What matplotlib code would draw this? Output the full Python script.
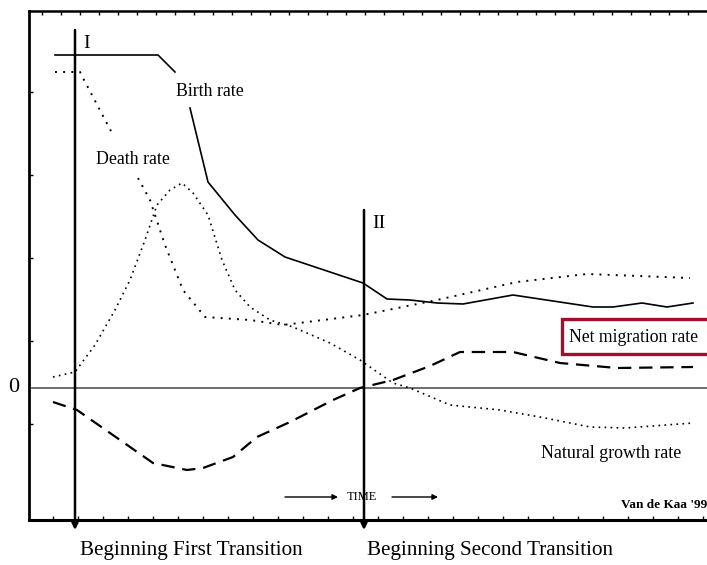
import numpy as np
import matplotlib.pyplot as plt
from matplotlib.patches import Rectangle

plt.rcParams['font.family'] = ['Liberation Serif', 'DejaVu Serif']

nan = np.nan

# time axis (arbitrary units) and rates
birth_t = [2.6, 12.9, 14.6, nan, 16.1, 17.9, 20.6, 22.9, 25.6, 33.4, 35.8, 38.1,
           40.8, 43.4, 48.4, 56.4, 58.4, 61.3, 63.8, 66.4]
birth_v = [33.3, 33.3, 31.6, nan, 28.0, 20.6, 17.3, 14.8, 13.1, 10.5, 8.9, 8.8,
           8.5, 8.4, 9.3, 8.1, 8.1, 8.5, 8.1, 8.5]

death_t = [2.6, 5.1, 5.4, 8.4, nan, 10.9, 12.1, 13.6, 15.4, 17.6, 22.1, 25.4,
           33.4, 40.8, 48.8, 55.8, 66.1]
death_v = [31.6, 31.6, 31.0, 25.3, nan, 21.0, 18.8, 14.3, 9.8, 7.1, 6.8, 6.3,
           7.3, 8.8, 10.6, 11.4, 11.0]

natural_t = [2.4, 4.6, 6.6, 8.6, 10.1, 11.6, 12.8, 14.1, 15.3, 16.4, 17.9, 19.3,
             20.6, 22.1, 24.1, 26.4, 30.1, 33.1, 36.4, 38.1, 42.1, 47.1, 51.1,
             56.1, 59.6, 66.4]
natural_v = [1.1, 1.6, 4.3, 7.8, 10.8, 14.8, 18.3, 19.8, 20.5, 19.5, 17.3, 12.8,
             9.8, 8.1, 6.8, 6.1, 4.5, 2.8, 0.5, 0.0, -1.7, -2.2, -2.9, -3.9, -4.0, -3.5]

migration_t = [2.4, 4.8, 8.1, 12.4, 15.8, 17.4, 20.4, 22.8, 26.1, 30.4, 33.1,
               36.4, 40.1, 43.1, 48.4, 53.1, 58.8, 66.4]
migration_v = [-1.4, -2.2, -4.5, -7.5, -8.2, -8.0, -6.9, -4.9, -3.4, -1.2, 0.0,
               0.8, 2.2, 3.6, 3.6, 2.5, 2.0, 2.1]

first_t = 4.6
second_t = 33.5

fig = plt.figure(figsize=(7.07, 5.65), dpi=100)
ax = fig.add_axes([29/707, 45/565, 1 - 29/707, (565-11-45)/565])
ax.set_xlim(0, 67.8)
ax.set_ylim(-13.2, 37.7)

ax.spines['right'].set_visible(False)
ax.spines['left'].set_linewidth(2.0)
ax.spines['top'].set_linewidth(1.8)
ax.spines['bottom'].set_linewidth(2.2)

ax.set_xticks(np.arange(2.4, 67.8, 2.5))
ax.set_yticks(np.arange(-3.6, 35, 8.3))
ax.tick_params(direction='in', length=3, width=1, labelbottom=False, labelleft=False)
top = ax.secondary_xaxis('top')
top.set_xticks(np.arange(1.3, 67.8, 1.9))
top.tick_params(direction='in', length=3, width=1, labeltop=False)
top.spines['top'].set_visible(False)

ax.axhline(0, color='#555555', lw=1.2, xmin=0.005)
ax.text(-1.5, 0, '0', fontsize=16, ha='center', va='center', clip_on=False)

ax.plot(birth_t, birth_v, color='black', lw=1.2)
ax.plot(death_t, death_v, color='black', lw=1.4, linestyle=(0, (1, 3.2)))
ax.plot(natural_t, natural_v, color='black', lw=1.2, linestyle=(0, (1, 2.6)))
ax.plot(migration_t, migration_v, color='black', lw=1.6, linestyle=(0, (6, 3.5)))

# transition markers
for t, ytop, lab in [(first_t, 35.8, 'I'), (second_t, 17.8, 'II')]:
    ax.annotate('', xy=(t, -14.2), xytext=(t, ytop),
                arrowprops=dict(arrowstyle='-|>', lw=1.8, color='black',
                                mutation_scale=9, shrinkA=0, shrinkB=0),
                annotation_clip=False)
    ax.text(t + 0.8, ytop - 1.4, lab, fontsize=14, ha='left', va='center')

ax.text(14.7, 29.7, 'Birth rate', fontsize=12.8, ha='left', va='center')
ax.text(6.7, 22.9, 'Death rate', fontsize=12.8, ha='left', va='center')
ax.text(51.2, -6.5, 'Natural growth rate', fontsize=12.9, ha='left', va='center')

ax.add_patch(Rectangle((53.3, 3.4), 16, 3.5, facecolor='white',
                       edgecolor='#a50d2e', lw=2.4, zorder=4))
ax.text(54.0, 5.1, 'Net migration rate', fontsize=12.7, ha='left', va='center', zorder=5)

ax.text(33.3, -10.9, 'TIME', fontsize=9, ha='center', va='center')
for x0, x1 in [(25.6, 30.9), (36.3, 40.9)]:
    ax.annotate('', xy=(x1, -10.9), xytext=(x0, -10.9),
                arrowprops=dict(arrowstyle='-|>', lw=1, color='black',
                                mutation_scale=8, shrinkA=0, shrinkB=0))
ax.text(67.8, -11.7, "Van de Kaa '99", fontsize=9.5, fontweight='bold',
        ha='right', va='center')

fig.text(80/707, 1 - 551/565, 'Beginning First Transition', fontsize=15.2,
         ha='left', va='center')
fig.text(367/707, 1 - 551/565, 'Beginning Second Transition', fontsize=15.2,
         ha='left', va='center')

fig.savefig('out.png', dpi=100)
